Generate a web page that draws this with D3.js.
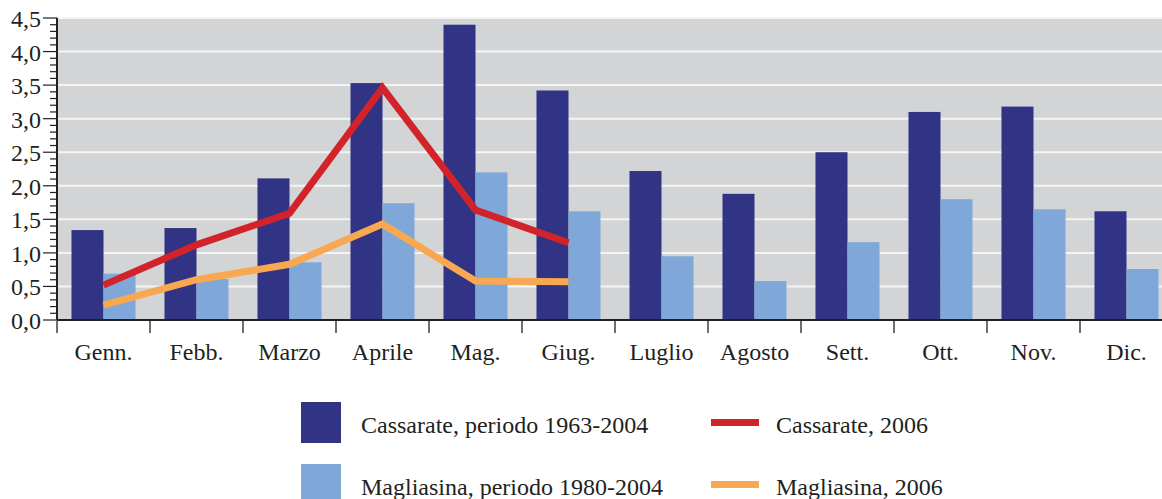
<!DOCTYPE html>
<html>
<head>
<meta charset="utf-8">
<script src="https://cdn.jsdelivr.net/npm/d3@7"></script>
<style>
  body { margin: 0; background: #fff; }
  svg { display: block; }
  text { font-family: "Liberation Serif", "DejaVu Serif", serif; fill: #231f20; }
</style>
</head>
<body>
<svg id="chart" width="1162" height="499"></svg>
<script>
// dati
const months = ["Genn.", "Febb.", "Marzo", "Aprile", "Mag.", "Giug.", "Luglio", "Agosto", "Sett.", "Ott.", "Nov.", "Dic."];
const cassarateMedia = [1.34, 1.37, 2.11, 3.53, 4.40, 3.42, 2.22, 1.88, 2.50, 3.10, 3.18, 1.62];
const magliasinaMedia = [0.69, 0.61, 0.86, 1.74, 2.20, 1.62, 0.95, 0.58, 1.16, 1.80, 1.65, 0.76];
const cassarate2006 = [0.52, 1.12, 1.59, 3.46, 1.64, 1.15];
const magliasina2006 = [0.22, 0.60, 0.83, 1.43, 0.58, 0.57];
const yTicks = [0, 0.5, 1, 1.5, 2, 2.5, 3, 3.5, 4, 4.5];
const legendItems = [
    { label: "Cassarate, periodo 1963-2004", type: "bar", color: "#313384" },
    { label: "Magliasina, periodo 1980-2004", type: "bar", color: "#7fa8d8" },
    { label: "Cassarate, 2006", type: "line", color: "#d2232a" },
    { label: "Magliasina, 2006", type: "line", color: "#f9a852" }
];

const svg = d3.select("#chart");
const plotLeft = 57, plotTop = 18, plotBottom = 320, plotRight = 1162;

const x0 = d3.scaleBand()
    .domain(months)
    .range([plotLeft, plotLeft + 93 * months.length]);

const x1 = d3.scaleBand()
    .domain(["c", "m"])
    .range([0, x0.bandwidth()])
    .paddingOuter(0.453);

const y = d3.scaleLinear()
    .domain([0, 4.5])
    .range([plotBottom, plotTop]);

// sfondo grigio
svg.append("rect")
    .attr("x", plotLeft)
    .attr("y", plotTop)
    .attr("width", plotRight - plotLeft)
    .attr("height", plotBottom - plotTop)
    .attr("fill", "#d3d4d6");

// linee della griglia
svg.append("g")
    .selectAll("line")
    .data(yTicks.filter(d => d > 0))
    .enter()
    .append("line")
    .attr("x1", plotLeft)
    .attr("x2", plotRight)
    .attr("y1", d => y(d))
    .attr("y2", d => y(d))
    .attr("stroke", "#f4f4f4")
    .attr("stroke-width", 2);

// barre
const groups = svg.append("g")
    .selectAll("g")
    .data(months)
    .enter()
    .append("g")
    .attr("transform", d => `translate(${x0(d)},0)`);

groups.append("rect")
    .attr("x", x1("c"))
    .attr("width", x1.bandwidth())
    .attr("y", (d, i) => y(cassarateMedia[i]))
    .attr("height", (d, i) => plotBottom - y(cassarateMedia[i]))
    .attr("fill", "#313384");

groups.append("rect")
    .attr("x", x1("m"))
    .attr("width", x1.bandwidth())
    .attr("y", (d, i) => y(magliasinaMedia[i]))
    .attr("height", (d, i) => plotBottom - y(magliasinaMedia[i]))
    .attr("fill", "#7fa8d8");

// linee 2006
const line = d3.line()
    .x((d, i) => x0(months[i]) + x0.bandwidth() / 2)
    .y(d => y(d));

svg.append("path")
    .datum(magliasina2006)
    .attr("d", line)
    .attr("fill", "none")
    .attr("stroke", "#f9a852")
    .attr("stroke-width", 7);

svg.append("path")
    .datum(cassarate2006)
    .attr("d", line)
    .attr("fill", "none")
    .attr("stroke", "#d2232a")
    .attr("stroke-width", 7);

// asse x
svg.append("line")
    .attr("x1", plotLeft)
    .attr("x2", plotRight)
    .attr("y1", plotBottom)
    .attr("y2", plotBottom)
    .attr("stroke", "#231f20")
    .attr("stroke-width", 2);

svg.append("g")
    .selectAll("line")
    .data(d3.range(months.length + 1))
    .enter()
    .append("line")
    .attr("x1", d => plotLeft + d * x0.step())
    .attr("x2", d => plotLeft + d * x0.step())
    .attr("y1", plotBottom + 1)
    .attr("y2", plotBottom + 13)
    .attr("stroke", "#6d6e71")
    .attr("stroke-width", 2);

svg.append("g")
    .selectAll("text")
    .data(months)
    .enter()
    .append("text")
    .attr("x", d => x0(d) + x0.bandwidth() / 2)
    .attr("y", 360)
    .attr("text-anchor", "middle")
    .attr("font-size", 24)
    .text(d => d);

// asse y
const fmt = d => d3.format(".1f")(d).replace(".", ",");

svg.append("g")
    .selectAll("line")
    .data(d3.range(0, 46).map(d => d / 10))
    .enter()
    .append("line")
    .attr("x1", d => Math.round(d * 10) % 5 === 0 ? plotLeft - 14 : plotLeft - 7)
    .attr("x2", plotLeft)
    .attr("y1", d => y(d))
    .attr("y2", d => y(d))
    .attr("stroke", "#231f20")
    .attr("stroke-width", 1.2);

svg.append("line")
    .attr("x1", plotLeft)
    .attr("x2", plotLeft)
    .attr("y1", plotTop)
    .attr("y2", plotBottom)
    .attr("stroke", "#231f20")
    .attr("stroke-width", 2);

svg.append("g")
    .selectAll("text")
    .data(yTicks)
    .enter()
    .append("text")
    .attr("x", 41)
    .attr("y", d => y(d) + 9)
    .attr("text-anchor", "end")
    .attr("font-size", 24)
    .text(fmt);

// legenda
const legend = svg.append("g")
    .selectAll("g")
    .data(legendItems)
    .enter()
    .append("g")
    .attr("transform", (d, i) => `translate(${i < 2 ? 301 : 711},${402 + (i % 2) * 62})`);

legend.filter(d => d.type === "bar")
    .append("rect")
    .attr("width", 40)
    .attr("height", 41)
    .attr("fill", d => d.color);

legend.filter(d => d.type === "line")
    .append("rect")
    .attr("y", 17)
    .attr("width", 48)
    .attr("height", 7)
    .attr("fill", d => d.color);

legend.append("text")
    .attr("x", d => d.type === "bar" ? 60 : 65)
    .attr("y", 31)
    .attr("font-size", 24)
    .text(d => d.label);
</script>
</body>
</html>
